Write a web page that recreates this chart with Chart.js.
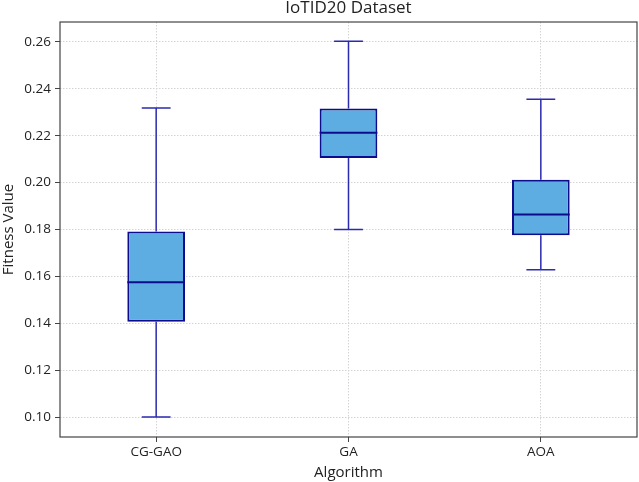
<!DOCTYPE html>
<html>
<head>
<meta charset="utf-8">
<script src="https://cdn.jsdelivr.net/npm/chart.js@4"></script>
<style>
  html, body { margin: 0; padding: 0; background: #fff; }
  #wrap { width: 639px; height: 482px; }
</style>
</head>
<body>
<div id="wrap"><canvas id="box"></canvas></div>
<script>
// box plot stats
const algorithms = ['CG-GAO', 'GA', 'AOA'];
const whiskerLow = [0.1000, 0.1800, 0.1628];
const quartile1 = [0.1407, 0.2105, 0.1776];
const medians = [0.1575, 0.2213, 0.1864];
const quartile3 = [0.1791, 0.2316, 0.2012];
const whiskerHigh = [0.2318, 0.2603, 0.2355];
const yTicks = [0.10, 0.12, 0.14, 0.16, 0.18, 0.20, 0.22, 0.24, 0.26];

const FONT = 'Open Sans';
const boxEdge = '#0c0c8c';
const whiskerCol = '#2b2bb0';

// whiskers, caps, median, frame and the title over the plot area
const boxExtras = {
    id: 'boxExtras',
    beforeDatasetsDraw(chart) {
        const ctx = chart.ctx;
        const x = chart.scales.x, y = chart.scales.y;
        const meta = chart.getDatasetMeta(0);
        ctx.save();
        ctx.strokeStyle = whiskerCol;
        ctx.lineWidth = 1.5;
        algorithms.forEach(function(a, i) {
            const cx = x.getPixelForValue(i);
            const half = meta.data[i].width / 4;
            ctx.beginPath();
            ctx.moveTo(cx, y.getPixelForValue(quartile3[i]));
            ctx.lineTo(cx, y.getPixelForValue(whiskerHigh[i]));
            ctx.moveTo(cx, y.getPixelForValue(quartile1[i]));
            ctx.lineTo(cx, y.getPixelForValue(whiskerLow[i]));
            ctx.moveTo(cx - half, y.getPixelForValue(whiskerHigh[i]));
            ctx.lineTo(cx + half, y.getPixelForValue(whiskerHigh[i]));
            ctx.moveTo(cx - half, y.getPixelForValue(whiskerLow[i]));
            ctx.lineTo(cx + half, y.getPixelForValue(whiskerLow[i]));
            ctx.stroke();
        });
        ctx.restore();
    },
    afterDatasetsDraw(chart) {
        const ctx = chart.ctx;
        const x = chart.scales.x, y = chart.scales.y;
        const meta = chart.getDatasetMeta(0);
        const area = chart.chartArea;
        ctx.save();
        ctx.strokeStyle = boxEdge;
        ctx.lineWidth = 2;
        algorithms.forEach(function(a, i) {
            const cx = x.getPixelForValue(i);
            const half = meta.data[i].width / 2;
            const my = y.getPixelForValue(medians[i]);
            ctx.beginPath();
            ctx.moveTo(cx - half, my);
            ctx.lineTo(cx + half, my);
            ctx.stroke();
        });
        ctx.strokeStyle = '#444';
        ctx.lineWidth = 1.2;
        ctx.strokeRect(area.left, area.top, area.right - area.left, area.bottom - area.top);
        ctx.fillStyle = '#222';
        ctx.font = '17px "' + FONT + '"';
        ctx.textAlign = 'center';
        ctx.textBaseline = 'middle';
        ctx.fillText('IoTID20 Dataset', (area.left + area.right) / 2, 8);
        ctx.restore();
    }
};

new Chart(document.getElementById('box').getContext('2d'), {
    type: 'bar',
    data: {
        labels: algorithms,
        datasets: [{
            label: 'IQR',
            data: quartile1.map(function(q, i) { return [q, quartile3[i]]; }),
            backgroundColor: '#5dade2',
            borderColor: boxEdge,
            borderWidth: 2,
            borderSkipped: false,
            categoryPercentage: 1,
            barPercentage: 0.3
        }]
    },
    options: {
        responsive: true,
        maintainAspectRatio: false,
        animation: false,
        layout: { padding: { top: 22, right: 2, left: 0, bottom: 0 } },
        plugins: {
            legend: { display: false },
            tooltip: { enabled: false }
        },
        scales: {
            x: {
                grid: {
                    offset: false,
                    color: '#d4d4d4',
                    lineWidth: 1,
                    tickLength: 5,
                    tickColor: '#444',
                    tickBorderDash: [],
                    drawOnChartArea: true
                },
                border: { display: false, dash: [1.5, 1.5] },
                ticks: {
                    color: '#222',
                    padding: 2,
                    font: { family: FONT, size: 13.5 }
                },
                title: {
                    display: true,
                    text: 'Algorithm',
                    color: '#222',
                    padding: { top: 0, bottom: 0 },
                    font: { family: FONT, size: 15 }
                },
                afterFit: function(scale) { scale.height = 45; }
            },
            y: {
                min: 0.0915,
                max: 0.2685,
                afterBuildTicks: function(scale) {
                    scale.ticks = yTicks.map(function(v) { return { value: v }; });
                },
                grid: {
                    color: '#d4d4d4',
                    lineWidth: 1,
                    tickLength: 5,
                    tickColor: '#444',
                    tickBorderDash: []
                },
                border: { display: false, dash: [1.5, 1.5] },
                ticks: {
                    color: '#222',
                    padding: 4,
                    font: { family: FONT, size: 13.5 },
                    callback: function(v) { return Number(v).toFixed(2); }
                },
                title: {
                    display: true,
                    text: 'Fitness Value',
                    color: '#222',
                    padding: { top: 0, bottom: 2 },
                    font: { family: FONT, size: 15 }
                },
                afterFit: function(scale) { scale.width = 60; }
            }
        }
    },
    plugins: [boxExtras]
});
</script>
</body>
</html>
